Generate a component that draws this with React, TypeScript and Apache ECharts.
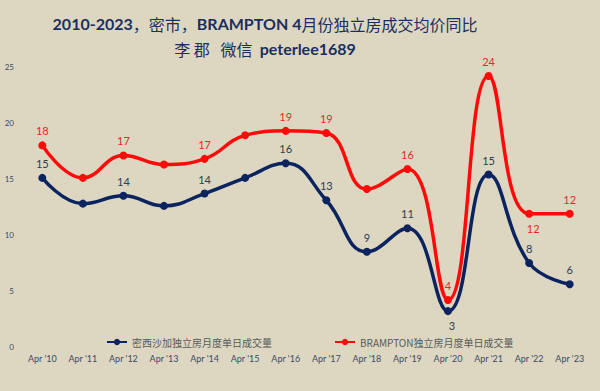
import React, { useEffect, useRef } from "react";
import * as echarts from "echarts";

const categories = ["Apr '10", "Apr '11", "Apr '12", "Apr '13", "Apr '14", "Apr '15", "Apr '16", "Apr '17", "Apr '18", "Apr '19", "Apr '20", "Apr '21", "Apr '22", "Apr '23"];
const mississaugaValues = [15.1, 12.8, 13.5, 12.6, 13.7, 15.1, 16.4, 13.1, 8.5, 10.6, 3.2, 15.4, 7.5, 5.6];
const bramptonValues = [18.0, 15.1, 17.1, 16.3, 16.8, 18.9, 19.3, 19.1, 14.1, 15.9, 4.2, 24.2, 11.9, 11.9];
const mississaugaShowLabel = [true, false, true, false, true, false, true, true, true, true, true, true, true, true];
const bramptonShowLabel = [true, false, true, false, true, false, true, true, false, true, true, true, true, true];
const mississaugaBelow = [10];
const bramptonBelow = [12];
const yTicks = [0, 5, 10, 15, 20, 25];
const seriesNames = ["密西沙加独立房月度单日成交量", "BRAMPTON独立房月度单日成交量"];

const BLUE = "#0b2460";
const RED = "#ff0a0a";

function buildData(values: number[], show: boolean[], below: number[], color: string) {
  return values.map((v, i) => ({
    value: v,
    label: {
      show: show[i],
      position: below.includes(i) ? "bottom" : "top",
      offset: below.includes(i) ? [4, 0] : [0, 0],
      color,
    },
  }));
}

export default function App() {
  const ref = useRef<HTMLDivElement>(null);
  useEffect(() => {
    if (!ref.current) return;
    const chart = echarts.init(ref.current, undefined, { renderer: "svg" });
    const font = "Lato, 'Noto Sans CJK SC', sans-serif";
    const cjk = "'Noto Sans CJK SC', sans-serif";
    chart.setOption({
      animation: false,
      backgroundColor: "#ddd7c1",
      title: {
        text: "{b|2010-2023}{c|，密市，}{b|BRAMPTON 4}{c|月份独立房成交均价同比}\n{c|李 郡   微信  }{b|peterlee1689}",
        left: 260,
        textAlign: "center",
        top: 6,
        textStyle: {
          fontFamily: font,
          fontSize: 16,
          fontWeight: "bold",
          color: "#1b2f5e",
          lineHeight: 25,
          rich: {
            b: { fontFamily: font, fontSize: 16, fontWeight: "bold", color: "#1b2f5e", lineHeight: 25 },
            c: { fontFamily: cjk, fontSize: 16, fontWeight: "normal", color: "#1b2f5e", lineHeight: 25 },
          },
        },
      },
      legend: {
        left: 101,
        top: 332,
        itemGap: 62,
        itemWidth: 20,
        itemHeight: 8,
        textStyle: { fontFamily: cjk, fontSize: 10, color: "#595959" },
        data: seriesNames,
      },
      grid: { left: 22, right: 10, top: 67, bottom: 44, containLabel: false },
      xAxis: {
        type: "category",
        data: categories,
        boundaryGap: true,
        axisLine: { show: false },
        axisTick: { show: false },
        axisLabel: { fontFamily: font, fontSize: 9, color: "#3c4a66", margin: 7, interval: 0 },
      },
      yAxis: {
        type: "value",
        min: yTicks[0],
        max: yTicks[yTicks.length - 1],
        interval: 5,
        splitLine: { show: false },
        axisLine: { show: false },
        axisTick: { show: false },
        axisLabel: { fontFamily: font, fontSize: 8, color: "#3c4a66", margin: 8 },
      },
      series: [
        {
          name: seriesNames[0],
          type: "line",
          smooth: 0.45,
          symbol: "circle",
          symbolSize: 8,
          lineStyle: { color: BLUE, width: 3.5 },
          itemStyle: { color: BLUE },
          label: { fontFamily: font, fontSize: 11, formatter: (p: any) => String(Math.round(p.value)) },
          data: buildData(mississaugaValues, mississaugaShowLabel, mississaugaBelow, "#2e3b55"),
          z: 3,
        },
        {
          name: seriesNames[1],
          type: "line",
          smooth: 0.45,
          symbol: "circle",
          symbolSize: 8,
          lineStyle: { color: RED, width: 3.5 },
          itemStyle: { color: RED },
          label: { fontFamily: font, fontSize: 11, formatter: (p: any) => String(Math.round(p.value)) },
          data: buildData(bramptonValues, bramptonShowLabel, bramptonBelow, "#e02a2a"),
          z: 2,
        },
      ],
    });
    return () => chart.dispose();
  }, []);
  return <div ref={ref} style={{ position: "absolute", left: 0, top: 0, width: 600, height: 391 }} />;
}
